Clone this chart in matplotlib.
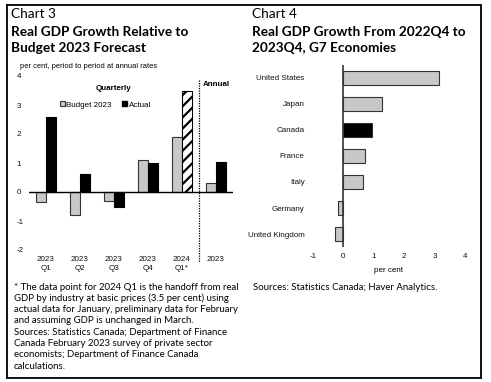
import numpy as np
import matplotlib
matplotlib.use("Agg")
import matplotlib.pyplot as plt
from matplotlib.patches import Patch
from matplotlib.lines import Line2D

plt.rcParams["axes.unicode_minus"] = False
plt.rcParams["hatch.linewidth"] = 1.6

# chart 3 data
cats3 = ["2023\nQ1", "2023\nQ2", "2023\nQ3", "2023\nQ4", "2024\nQ1*", "2023"]
budget = [-0.35, -0.8, -0.3, 1.1, 1.9, 0.3]
actual = [2.6, 0.63, -0.5, 1.0, 3.5, 1.05]
y3_ticks = [-2, -1, 0, 1, 2, 3, 4]

# chart 4 data
countries = ["United States", "Japan", "Canada", "France", "Italy", "Germany", "United Kingdom"]
growth = [3.15, 1.28, 0.95, 0.72, 0.63, -0.17, -0.26]
x4_ticks = [-1, 0, 1, 2, 3, 4]

note_lines = ["* The data point for 2024 Q1 is the handoff from real",
              "GDP by industry at basic prices (3.5 per cent) using",
              "actual data for January, preliminary data for February",
              "and assuming GDP is unchanged in March.",
              "Sources: Statistics Canada; Department of Finance",
              "Canada February 2023 survey of private sector",
              "economists; Department of Finance Canada",
              "calculations."]

gray = "#c8c8c8"
edge = "#333333"
tfont = "Lato"
cfont = "Liberation Sans"


def fy(py):
    # pixel row -> figure fraction
    return 1 - py / 382


fig = plt.figure(figsize=(4.91, 3.82), dpi=100)

# outer frame
xs = [6.5/491, 480.5/491, 480.5/491, 6.5/491, 6.5/491]
ys = [fy(4.5), fy(4.5), fy(378), fy(378), fy(4.5)]
fig.lines.append(Line2D(xs, ys, transform=fig.transFigure, color="black", linewidth=1.3,
                        solid_joinstyle="miter", zorder=10))

# titles
tsize = 9.85
fig.text(11/491, fy(18.5), "Chart 3", fontsize=tsize, family=tfont, va="baseline")
fig.text(11/491, fy(35.5), "Real GDP Growth Relative to", fontsize=tsize, family=tfont, weight="bold", va="baseline")
fig.text(11/491, fy(52.5), "Budget 2023 Forecast", fontsize=tsize, family=tfont, weight="bold", va="baseline")
fig.text(252/491, fy(18.5), "Chart 4", fontsize=tsize, family=tfont, va="baseline")
fig.text(252/491, fy(35.5), "Real GDP Growth From 2022Q4 to", fontsize=tsize, family=tfont, weight="bold", va="baseline")
fig.text(252/491, fy(52.5), "2023Q4, G7 Economies", fontsize=tsize, family=tfont, weight="bold", va="baseline")

# ---- chart 3
ax = fig.add_axes([29/491, fy(250), 204/491, 174/382])
x = np.arange(len(cats3))
w = 0.3
ax.bar(x - w/2, budget, w, color=gray, edgecolor=edge, linewidth=0.8, label="Budget 2023")
cols = ["black"] * len(actual)
cols[4] = "white"
bars = ax.bar(x + w/2, actual, w, color=cols, edgecolor="black", linewidth=0.8, label="Actual")
bars[4].set_hatch("///")
ax.axhline(0, color="black", linewidth=1)
ax.plot([4.5, 4.5], [3.85, -2.4], color="black", linestyle=(0, (1, 1)), linewidth=0.9, clip_on=False)
ax.set_xlim(-0.5, 5.5)
ax.set_ylim(-2, 4)
ax.set_yticks(y3_ticks)
ax.set_xticks(x)
ax.set_xticklabels(cats3)
for s in ax.spines.values():
    s.set_visible(False)
ax.tick_params(length=0, labelsize=5.8, labelcolor="#111111")
ax.tick_params(axis="x", pad=4)
ax.tick_params(axis="y", pad=9)
for t in ax.get_xticklabels() + ax.get_yticklabels():
    t.set_family(cfont)
    t.set_linespacing(1.4)
for t in ax.get_yticklabels():
    t.set_horizontalalignment("left")
fig.text(20/491, fy(66), "per cent, period to period at annual rates", fontsize=5.4, family=cfont, va="center")
fig.text(113/491, fy(89), "Quarterly", fontsize=5.8, family=cfont, weight="bold", ha="center", va="center")
fig.text(203/491, fy(84), "Annual", fontsize=5.8, family=cfont, weight="bold", va="center")
handles = [Patch(facecolor=gray, edgecolor=edge, linewidth=0.8, label="Budget 2023"),
           Patch(facecolor="black", edgecolor="black", label="Actual")]
leg = ax.legend(handles=handles, loc="center left", bbox_to_anchor=(60/491, fy(105)),
                bbox_transform=fig.transFigure, ncol=2, frameon=False, fontsize=5.8,
                handlelength=0.6, handleheight=0.6, handletextpad=0.2, columnspacing=1.3,
                borderpad=0, borderaxespad=0)
for t in leg.get_texts():
    t.set_family(cfont)

# ---- chart 4
ax2 = fig.add_axes([313/491, fy(247), 152/491, 182/382])
y = np.arange(len(countries))
bcols = ["black" if c == "Canada" else gray for c in countries]
ax2.barh(y, growth, 0.56, color=bcols, edgecolor=edge, linewidth=0.8)
ax2.axvline(0, color="#333333", linewidth=1.2)
ax2.set_ylim(len(countries) - 0.5, -0.5)
ax2.set_xlim(-1, 4)
ax2.set_xticks(x4_ticks)
ax2.set_yticks(y)
ax2.set_yticklabels(countries)
for s in ax2.spines.values():
    s.set_visible(False)
ax2.tick_params(length=0, labelsize=5.8, labelcolor="#111111")
ax2.tick_params(axis="y", pad=6)
ax2.tick_params(axis="x", pad=4)
for t in ax2.get_xticklabels() + ax2.get_yticklabels():
    t.set_family(cfont)
ax2.set_xlabel("per cent", fontsize=5.8, family=cfont, labelpad=5)

# footnotes
for i, line in enumerate(note_lines):
    fig.text(14/491, fy(289.5 + 11.3 * i), line, fontsize=6.9, family=tfont, va="baseline")
fig.text(253/491, fy(289.5), "Sources: Statistics Canada; Haver Analytics.", fontsize=6.9,
         family=tfont, va="baseline")

fig.savefig("out.png", dpi=100)
